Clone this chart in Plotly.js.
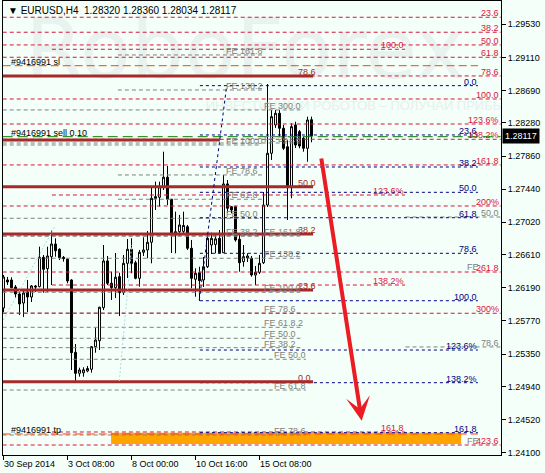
<!DOCTYPE html>
<html>
<head>
<meta charset="utf-8">
<script src="https://cdn.plot.ly/plotly-3.0.1.min.js"></script>
<style>
html,body{margin:0;padding:0;background:#F3FFF8;}
#chart{width:545px;height:473px;}
</style>
</head>
<body>
<div id="chart"></div>
<script>
// ---------- DATA ----------
const barIndex = [0,1,2,3,4,5,6,7,8,9,10,11,12,13,14,15,16,17,18,19,20,21,22,23,24,25,26,27,28,29,30,31,32,33,34,35,36,37,38,39,40,41,42,43,44,45,46,47,48,49,50,51,52,53,54,55,56,57,58,59,60,61,62,63,64,65,66,67,68,69,70,71,72,73,74,75,76,77];
const openP = [1.25934,1.26289,1.26289,1.26200,1.26111,1.25997,1.26137,1.26073,1.26213,1.26204,1.26576,1.26432,1.26584,1.26745,1.26678,1.26576,1.26551,1.26289,1.25372,1.25106,1.25112,1.25135,1.25157,1.25443,1.25519,1.25938,1.26530,1.26247,1.26191,1.26331,1.26128,1.26500,1.26678,1.26508,1.26310,1.26640,1.26669,1.26767,1.27345,1.27337,1.27471,1.27591,1.27312,1.26859,1.26901,1.26905,1.26964,1.26691,1.26298,1.26381,1.26289,1.26457,1.26732,1.26740,1.26817,1.26635,1.27506,1.27218,1.27218,1.26805,1.26521,1.26568,1.26564,1.26352,1.26386,1.26508,1.27239,1.27895,1.28254,1.28402,1.28212,1.27978,1.27471,1.28254,1.28169,1.28085,1.27958,1.28320];
const highP = [1.26352,1.26327,1.26323,1.26225,1.26162,1.26162,1.26289,1.26225,1.26225,1.26711,1.26606,1.26711,1.26914,1.26817,1.26690,1.26593,1.26560,1.26298,1.25477,1.25177,1.25182,1.25199,1.25452,1.25684,1.25950,1.26732,1.26593,1.26394,1.26631,1.26381,1.26606,1.26808,1.26817,1.26533,1.26669,1.26830,1.26910,1.27471,1.27535,1.27535,1.27915,1.27734,1.27316,1.27155,1.27113,1.27155,1.26986,1.26796,1.26437,1.26457,1.26580,1.26881,1.26888,1.26859,1.26922,1.27620,1.27556,1.27227,1.27222,1.26859,1.26732,1.26627,1.26593,1.26466,1.26606,1.27404,1.28773,1.28444,1.28453,1.28444,1.28254,1.28063,1.28275,1.28295,1.28190,1.28105,1.28359,1.28360];
const lowP = [1.25883,1.26225,1.26184,1.26061,1.25845,1.25820,1.25883,1.26010,1.26137,1.26196,1.26128,1.26140,1.26225,1.26584,1.26542,1.26521,1.26247,1.25148,1.24987,1.25063,1.25063,1.25119,1.25114,1.25367,1.25401,1.25908,1.26225,1.26035,1.26061,1.25832,1.26099,1.26314,1.26374,1.26298,1.26204,1.26593,1.26564,1.26500,1.27176,1.27218,1.27430,1.27239,1.26631,1.26627,1.26846,1.26859,1.26669,1.26184,1.26077,1.26023,1.26200,1.26441,1.26618,1.26627,1.26627,1.26631,1.27138,1.27134,1.26774,1.26394,1.26457,1.26517,1.26331,1.26225,1.26365,1.26491,1.27214,1.27810,1.28216,1.28105,1.27937,1.27049,1.27324,1.27962,1.27958,1.27915,1.27788,1.28034];
const closeP = [1.26327,1.26263,1.26191,1.26111,1.25985,1.26124,1.26073,1.26213,1.26200,1.26576,1.26424,1.26593,1.26745,1.26660,1.26571,1.26559,1.26276,1.25367,1.25106,1.25148,1.25150,1.25167,1.25443,1.25528,1.25943,1.26530,1.26247,1.26191,1.26323,1.26128,1.26500,1.26678,1.26500,1.26310,1.26640,1.26669,1.26767,1.27324,1.27324,1.27471,1.27591,1.27312,1.26859,1.26901,1.26986,1.26980,1.26691,1.26310,1.26374,1.26280,1.26457,1.26817,1.26817,1.26810,1.26635,1.27506,1.27198,1.27176,1.26796,1.26508,1.26584,1.26593,1.26352,1.26386,1.26500,1.27239,1.27895,1.28359,1.28402,1.28212,1.27958,1.27471,1.28232,1.28000,1.27987,1.27958,1.28317,1.28117];

// price axis ticks
const yTickVals = [1.29530,1.29110,1.28690,1.28280,1.27860,1.27440,1.27020,1.26610,1.26190,1.25770,1.25350,1.24940,1.24520,1.24100];
const yTickText = ["1.29530","1.29110","1.28690","1.28280","1.27860","1.27440","1.27020","1.26610","1.26190","1.25770","1.25350","1.24940","1.24520","1.24100"];
// time axis ticks
const xTickBars = [0,16,32,48,64];
const xTickText = ["30 Sep 2014","3 Oct 08:00","8 Oct 00:00","10 Oct 16:00","15 Oct 08:00"];

// Fibonacci levels (crimson, full width)
const fibRedLevels = [1.29619,1.29429,1.29268,1.29112,1.28875,1.28583,1.28266,1.28072,1.27747,1.27227,1.26390,1.25867,1.24197];
const fibRedLabels = ["23.6","38.2","50.0","61.8","78.6","100.0","123.6%","138.2%","161.8","200%","261.8","300%","423.6"];
// second crimson expansion
const fibRed2Levels = [1.29213,1.27366,1.26225,1.24362];
const fibRed2Labels = ["100.0","123.6%","138.2%","161.8"];
// navy fibo
const fibNavyLevels = [1.28752,1.28127,1.27721,1.27400,1.27078,1.26627,1.26026,1.25401,1.24987,1.24353];
const fibNavyLabels = ["0.0","23.6","38.2","50.0","61.8","78.6","100.0","123.6%","138.2%","161.8"];
// brown thick fibo
const fibBrownLevels = [1.28875,1.27471,1.26872,1.26162,1.25000];
const fibBrownLabels = ["78.6","50.0","38.2","23.6","0.0"];
const fibBrownShort = [1.28063];
// FE expansions (gray)
const feALevels = [1.29141,1.28697,1.27620,1.27312];
const feALabels = ["FE 161.8","FE 138.2","FE 78.6","FE 61.8"];
const feBLevels = [1.28000,1.27071,1.26846];
const feBLabels = ["FE 100.0","FE 50.0","FE 38.2"];
const feCLevels = [1.28444,1.28025,1.26846,1.26564,1.26133,1.25870,1.25689,1.25550,1.25431];
const feCLabels = ["FE 300.0","FE 261.8","FE 161.8","FE 138.2","FE 100.0","FE 78.6","FE 61.8.2","FE 50.0","FE 38.2"];
const feDLevels = [1.25284,1.24894,1.24324];
const feDLabels = ["FE 50.0","FE 61.8","FE 78.6"];
const feRightLevels = [1.27087,1.25440,1.26403,1.24197];
const feRightLabels = ["50.0","78.6","FE","FE"];

// orders
const orderSL = 1.29005, orderOpen = 1.28105, orderTP = 1.24337;
const orderLabels = ["#9416991 sl","#9416991 sell 0.10","#9416991 tp"];
const targetZone = [1.24210,1.24353];
const lastPrice = 1.28117;
const titleText = "EURUSD,H4  1.28320 1.28360 1.28034 1.28117";
const watermark = ["RoboForex","ИНВЕСТИЦИИ И РОБОТОВ – ПОЛУЧАЙ ПРИБЫЛЬ"];

// ---------- DRAWING ----------
const FONT = "Liberation Sans, Arial, sans-serif";
const BG = "#F3FFF8";
const C_RED = "#DC143C", C_NAVY = "#000080", C_BROWN = "#A52A2A", C_GRAY = "#808080";
const traces = [];
const ann = [];

// watermark (bottom layer)
traces.push({type:"scatter",mode:"text",x:[60.4],y:[1.2911],text:[watermark[0]],
  textfont:{family:"DejaVu Sans, sans-serif",size:84,color:"#E8F2EF"},hoverinfo:"skip"});
traces.push({type:"scatter",mode:"text",x:[90],y:[1.2848],text:[watermark[1]],
  textfont:{family:FONT,size:13,color:"#E6F0EE"},hoverinfo:"skip"});

function hlines(levels,x0,x1,color,dash,width){
  const xs=[],ys=[];
  levels.forEach(v=>{xs.push(x0,x1,null);ys.push(v,v,null);});
  traces.push({type:"scatter",mode:"lines",x:xs,y:ys,line:{color:color,dash:dash,width:width},hoverinfo:"skip"});
}
function labels(levels,texts,x,anchor,color){
  levels.forEach((v,k)=>{
    ann.push({x:x,y:v,xref:"x",yref:"y",text:texts[k],showarrow:false,xanchor:anchor,yanchor:"bottom",
      yshift:-2,font:{family:FONT,size:9,color:color},borderpad:0});
  });
}

// target zone rectangle
traces.push({type:"scatter",mode:"lines",x:[26.9,114.4,114.4,26.9,26.9],
  y:[targetZone[0],targetZone[0],targetZone[1],targetZone[1],targetZone[0]],
  fill:"toself",fillcolor:"#FFA500",line:{color:"#FFA500",width:0},hoverinfo:"skip"});

// gray FE lines
hlines(feALevels,28.6,64.6,C_GRAY,"4px,3px",1);
hlines(feBLevels,-0.2,64.6,C_GRAY,"4px,3px",1);
hlines(feCLevels,-0.2,74.2,C_GRAY,"4px,3px",1);
hlines(feDLevels,-0.2,75.6,C_GRAY,"4px,3px",1);
hlines([feRightLevels[0],feRightLevels[1]],100.5,124.2,C_GRAY,"4px,3px",1);

// crimson
hlines(fibRedLevels,-0.2,124.3,C_RED,"4px,3px",1);
hlines(fibRed2Levels,12.1,100.4,C_RED,"4px,3px",1);
// navy
hlines(fibNavyLevels,49.1,118.6,C_NAVY,"3px,3px",1);
// brown thick
hlines(fibBrownLevels,-0.2,77.4,C_BROWN,"solid",3);
hlines(fibBrownShort,-0.2,54.1,C_BROWN,"solid",3);

// order lines
hlines([orderSL],-0.2,118.6,"#FF4500","8px,4px",1);
hlines([orderTP],-0.2,118.6,"#FF4500","8px,4px",1);
hlines([orderOpen],-0.2,124.3,"#008000","10px,5px",1);

// diagonal trend lines
traces.push({type:"scatter",mode:"lines",x:[48.95,55.8],y:[1.26035,1.28752],line:{color:C_NAVY,dash:"3px,3px",width:1},hoverinfo:"skip"});
traces.push({type:"scatter",mode:"lines",x:[-0.05,12.9],y:[1.25782,1.26973],line:{color:"#ADD8E6",dash:"2px,2px",width:1},hoverinfo:"skip"});
traces.push({type:"scatter",mode:"lines",x:[28.95,32.05],y:[1.25008,1.26732],line:{color:"#ADD8E6",dash:"2px,2px",width:1},hoverinfo:"skip"});

// candles
traces.push({type:"candlestick",x:barIndex,open:openP,high:highP,low:lowP,close:closeP,
  increasing:{line:{color:"#000000",width:1},fillcolor:"#FFFFFF"},
  decreasing:{line:{color:"#000000",width:1},fillcolor:"#000000"},
  whiskerwidth:0,hoverinfo:"skip"});

// labels
labels(fibRedLevels,fibRedLabels,124.2,"right",C_RED);
labels(fibRed2Levels,fibRed2Labels,100.4,"right",C_RED);
labels(fibNavyLevels,fibNavyLabels,118.6,"right",C_NAVY);
labels(fibBrownLevels,fibBrownLabels,73.4,"left",C_BROWN);
labels(feALevels,feALabels,55.4,"left",C_GRAY);
labels(feBLevels,feBLabels,55.4,"left",C_GRAY);
labels(feCLevels,feCLabels,64.8,"left",C_GRAY);
labels(feDLevels,feDLabels,67.4,"left",C_GRAY);
labels([feRightLevels[0]],[feRightLabels[0]],124.2,"right",C_GRAY);
labels([feRightLevels[1]],[feRightLabels[1]],124.2,"right",C_GRAY);
labels([feRightLevels[2],feRightLevels[3]],[feRightLabels[2],feRightLabels[3]],115.6,"left",C_GRAY);
labels([orderSL,orderOpen,orderTP],orderLabels,1.5,"left","#000000");

// arrow
ann.push({x:89.55,y:1.24505,ax:79.4,ay:1.27848,xref:"x",yref:"y",axref:"x",ayref:"y",
  showarrow:true,arrowhead:3,arrowsize:1,arrowwidth:4,arrowcolor:"#EC1C24",text:""});

// title
ann.push({x:0,y:1,xref:"paper",yref:"paper",xanchor:"left",yanchor:"top",xshift:3,yshift:-2,
  text:"▼ "+titleText,showarrow:false,font:{family:FONT,size:10,color:"#000"}});

// x tick labels
xTickBars.forEach((b,k)=>{
  ann.push({x:b,y:0,xref:"x",yref:"paper",xanchor:"left",yanchor:"top",xshift:-2,yshift:-2,
    text:xTickText[k],showarrow:false,font:{family:FONT,size:9,color:"#000"}});
});
// last price box
ann.push({x:1,y:lastPrice,xref:"paper",yref:"y",xanchor:"left",yanchor:"middle",xshift:1,
  text:lastPrice.toFixed(5),showarrow:false,bgcolor:"#000000",borderpad:2,
  font:{family:FONT,size:9,color:"#FFFFFF"}});

const layout = {
  width:545,height:473,
  margin:{l:3,r:44,t:1,b:18,pad:0},
  paper_bgcolor:BG,plot_bgcolor:BG,showlegend:false,dragmode:false,
  xaxis:{range:[-0.125,124.375],showgrid:false,zeroline:false,showline:true,linecolor:"#000",linewidth:1,
    mirror:true,ticks:"outside",ticklen:4,tickcolor:"#000",tickvals:xTickBars,showticklabels:false,
    rangeslider:{visible:false},fixedrange:true},
  yaxis:{side:"right",range:[1.240704,1.29825],showgrid:false,zeroline:false,showline:true,linecolor:"#000",
    linewidth:1,mirror:true,ticks:"outside",ticklen:4,tickcolor:"#000",tickvals:yTickVals,ticktext:yTickText,
    tickfont:{family:FONT,size:9,color:"#000"},fixedrange:true},
  annotations:ann
};
Plotly.newPlot("chart",traces,layout,{displayModeBar:false,staticPlot:true});
</script>
</body>
</html>
